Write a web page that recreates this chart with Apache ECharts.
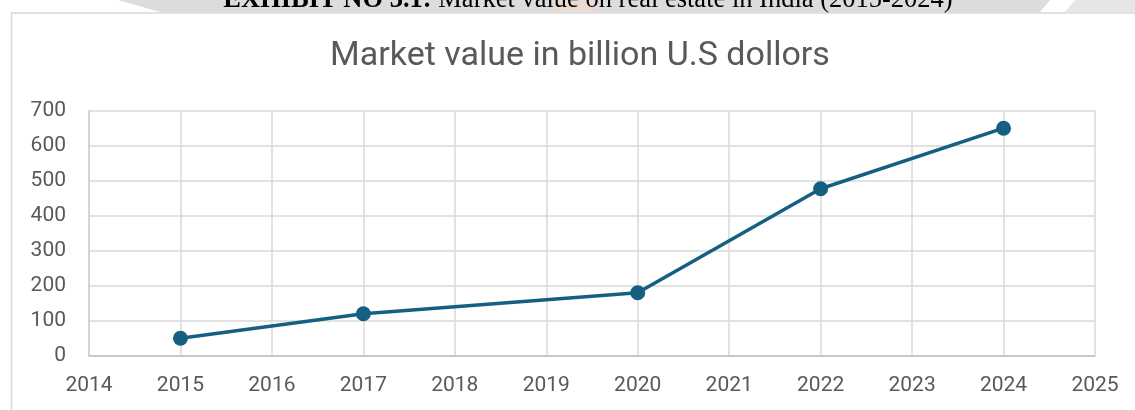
<!DOCTYPE html>
<html>
<head>
<meta charset="utf-8">
<script src="https://cdn.jsdelivr.net/npm/echarts@6/dist/echarts.min.js"></script>
<style>
html,body{margin:0;padding:0;background:#fff;}
#c{width:1135px;height:410px;}
</style>
</head>
<body>
<div id="c"></div>
<script>
const years = [2015, 2017, 2020, 2022, 2024];
const values = [50, 120, 180, 477, 650];
const xMin = 2014, xMax = 2025;
const yMin = 0, yMax = 700, yStep = 100;
const chartTitle = 'Market value in billion U.S dollors';
const headerBold = 'EXHIBIT NO 3.1:';
const headerRest = ' Market value on real estate in India (2015-2024)';

const chart = echarts.init(document.getElementById('c'), null, {renderer: 'canvas'});
const labelColor = '#595959';
const gridColor = '#d9d9d9';

chart.setOption({
  backgroundColor: '#ffffff',
  animation: false,
  graphic: [
    {type: 'polygon', silent: true, z: -10,
      shape: {points: [[118, 0], [1050, 0], [1040, 12], [160, 12]]},
      style: {fill: '#dcdcdc'}},
    {type: 'rect', silent: true, z: -9,
      shape: {x: 555, y: 0, width: 40, height: 12},
      style: {fill: '#f3d9cc', opacity: 0.6}},
    {type: 'polygon', silent: true, z: -10,
      shape: {points: [[1075, 0], [1135, 0], [1135, 12], [1065, 12]]},
      style: {fill: '#e6e6e6'}},
    {type: 'text', silent: true, z: 5,
      x: 588, y: 14,
      style: {
        text: '{b|' + headerBold + '}{r|' + headerRest + '}',
        align: 'center', verticalAlign: 'bottom',
        rich: {
          b: {fontFamily: 'Liberation Serif', fontSize: 26.5, fontWeight: 'bold', fill: '#000'},
          r: {fontFamily: 'Liberation Serif', fontSize: 26.5, fill: '#000'}
        }
      }},
    {type: 'rect', silent: true, z: -5,
      shape: {x: 11.5, y: 13, width: 1200, height: 500},
      style: {fill: '#ffffff', stroke: '#d9d9d9', lineWidth: 1.5}},
    {type: 'text', silent: true, z: 5,
      x: 580, y: 56,
      style: {
        text: chartTitle, align: 'center', verticalAlign: 'middle',
        fontFamily: 'Roboto', fontSize: 34, fill: labelColor
      }}
  ],
  grid: {left: 89, right: 40, top: 110.7, bottom: 54.3, containLabel: false},
  xAxis: {
    type: 'value', min: xMin, max: xMax, interval: 1,
    axisLine: {show: true, lineStyle: {color: '#bfbfbf', width: 1.5}},
    axisTick: {show: false},
    splitLine: {show: true, lineStyle: {color: gridColor, width: 1.5}},
    axisLabel: {color: labelColor, fontFamily: 'Roboto', fontSize: 21, margin: 20,
      formatter: v => String(v)}
  },
  yAxis: {
    type: 'value', min: yMin, max: yMax, interval: yStep,
    axisLine: {show: true, lineStyle: {color: '#cfcfcf', width: 1.5}},
    axisTick: {show: false},
    splitLine: {show: true, lineStyle: {color: gridColor, width: 1.5}},
    axisLabel: {color: labelColor, fontFamily: 'Roboto', fontSize: 21, margin: 23,
      formatter: v => String(v)}
  },
  series: [{
    type: 'line',
    data: years.map((y, i) => [y, values[i]]),
    symbol: 'circle', symbolSize: 15,
    lineStyle: {color: '#156082', width: 3.5},
    itemStyle: {color: '#156082'},
    z: 3
  }]
});
</script>
</body>
</html>
